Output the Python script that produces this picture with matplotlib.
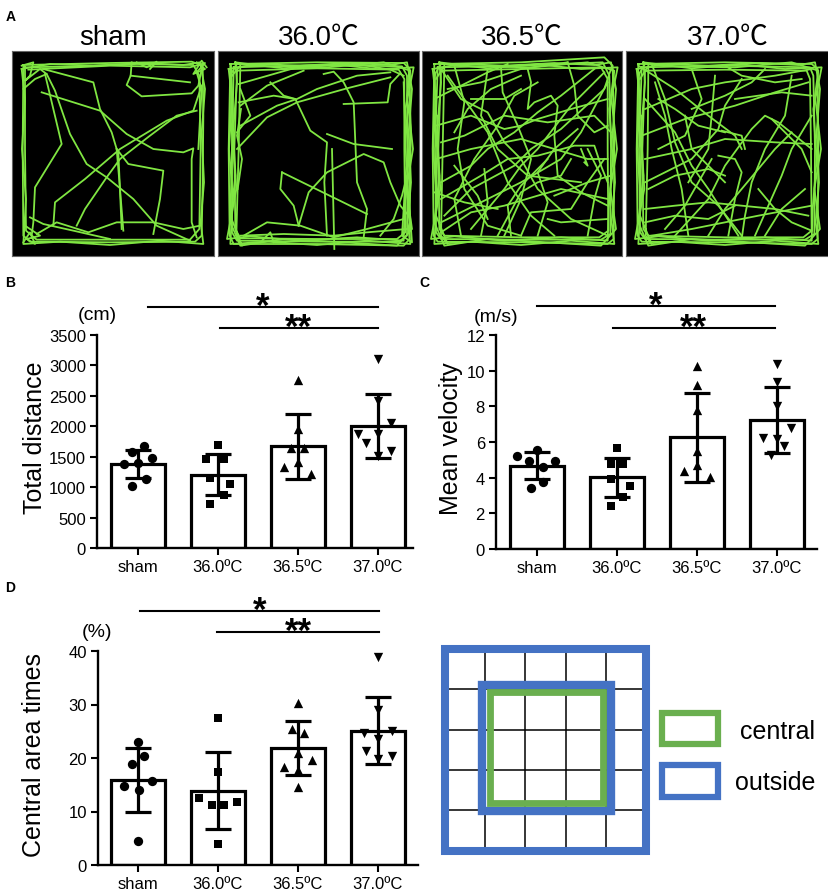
import numpy as np
import matplotlib.pyplot as plt
from matplotlib.patches import Rectangle

plt.rcParams['font.family'] = ['Liberation Sans', 'Noto Sans CJK SC', 'DejaVu Sans']

W, H = 829, 895

groups = ['sham', '36.0ºC', '36.5ºC', '37.0ºC']
track_titles = ['sham', '36.0℃', '36.5℃', '37.0℃']
markers = ['o', 's', '^', 'v']
msize = [45, 36, 45, 45]

### panel B: total distance (cm) ###
dist_mean = [1380, 1205, 1670, 2010]
dist_sd = [228, 342, 533, 528]
dist_pts = [[1670, 1570, 1480, 1380, 1400, 1130, 1020],
            [1690, 1470, 1460, 1143, 1050, 870, 722],
            [2762, 1952, 1635, 1635, 1405, 1323, 1214],
            [3112, 2417, 2062, 1870, 1870, 1733, 1597, 1515]]
dist_dx = [[0.07, -0.08, 0.17, -0.17, 0.0, 0.1, -0.08],
           [0.0, -0.15, 0.08, -0.1, 0.15, 0.07, -0.1],
           [0.0, 0.0, -0.08, 0.08, 0.0, -0.17, 0.17],
           [0.0, 0.0, 0.17, -0.25, 0.0, -0.15, 0.17, 0.0]]

### panel C: mean velocity (m/s) ###
vel_mean = [4.67, 4.02, 6.26, 7.25]
vel_sd = [0.75, 1.1, 2.5, 1.86]
vel_pts = [[5.2, 5.57, 4.95, 4.95, 4.58, 3.78, 3.44],
           [5.64, 4.77, 4.77, 3.93, 3.51, 2.9, 2.43],
           [10.24, 9.2, 7.81, 5.51, 4.71, 4.39, 4.02],
           [10.4, 9.38, 8.04, 6.8, 6.22, 6.17, 5.78, 5.25]]
vel_dx = [[-0.25, 0.0, -0.1, 0.23, 0.08, 0.08, -0.08],
          [0.0, -0.08, 0.08, -0.08, 0.16, 0.08, -0.08],
          [0.0, 0.0, 0.0, 0.0, 0.0, -0.16, 0.16],
          [0.0, 0.0, 0.0, 0.17, -0.17, 0.0, 0.09, -0.08]]

### panel D: central area times (%) ###
cen_mean = [15.9, 13.9, 21.8, 25.1]
cen_sd = [5.9, 7.25, 5.05, 6.3]
cen_pts = [[23.0, 18.85, 20.4, 14.7, 15.7, 14.06, 4.54],
           [27.4, 17.4, 12.57, 11.3, 11.2, 11.7, 3.9],
           [30.2, 25.5, 24.6, 21.0, 19.7, 18.4, 17.7, 14.5],
           [38.9, 28.9, 25.1, 24.6, 23.6, 21.3, 20.3, 19.9]]
cen_dx = [[0.0, -0.07, 0.08, -0.17, 0.17, 0.01, 0.0],
          [0.0, 0.0, -0.24, -0.08, 0.08, 0.24, 0.0],
          [0.0, -0.08, 0.08, 0.0, 0.17, -0.17, 0.0, 0.0],
          [0.0, 0.0, 0.17, -0.17, 0.0, -0.15, 0.17, 0.0]]

# significance bars: (start group, end group, height, label)
dist_sig = [(0.125, 3.0, 3960, '*'), (1.02, 3.0, 3615, '**')]
vel_sig = [(0.0, 2.97, 13.63, '*'), (0.95, 2.97, 12.39, '**')]
cen_sig = [(0.025, 3.01, 47.5, '*'), (0.99, 3.01, 43.5, '**')]

### panel A: tracks, polylines in the zoomed pixel frame of each box ###
# wall-hugging loops, shared look for all four boxes
wall_loops = [
    [35,60, 120,45, 250,50, 400,42, 520,48, 570,40, 585,120, 575,250, 582,400, 572,520, 580,585, 450,575, 300,588, 150,578, 40,585, 48,450, 36,300, 45,150, 35,60],
    [55,40, 200,58, 350,46, 480,60, 590,55, 565,180, 575,330, 563,480, 560,575, 420,565, 250,575, 100,562, 30,570, 58,420, 48,250, 60,100, 55,40],
    [42,75, 60,45, 150,52, 330,55, 500,40, 580,65, 570,140, 588,300, 568,420, 585,540, 540,590, 380,580, 200,570, 70,590, 40,520, 55,380, 42,220, 42,75],
]
track_sham = [
    [40,48, 300,42, 545,38, 578,50, 580,200, 578,400, 575,560, 555,578, 300,580, 60,578, 40,560, 38,300, 40,48],
    [45,55, 200,52, 380,45, 550,48, 568,80, 572,300, 568,540, 540,572, 300,572, 80,572, 48,545, 45,300, 45,55],
    [55,62, 300,50, 540,55, 585,42, 560,70, 575,120, 565,300],
    [35,50, 70,40, 60,80, 45,95, 90,60, 110,75, 75,90, 40,120],
    [40,580, 60,550, 75,585, 50,570, 90,560, 45,530],
    [560,40, 585,60, 550,75, 575,35, 590,55],
    [380,40, 410,55, 440,38, 420,60],
    [105,75, 155,285, 75,415, 70,520, 65,560],
    [110,75, 135,125, 180,255, 230,345, 290,385, 370,450, 440,530, 540,575],
    [100,60, 250,100, 270,180, 305,250, 320,300, 330,420, 340,545],
    [95,130, 270,185, 350,255, 430,300, 520,310, 550,298, 545,330, 545,520, 560,565],
    [365,40, 362,80, 350,108, 395,142, 545,133, 565,110, 575,60],
    [362,80, 540,100],
    [130,530, 135,460, 225,390, 330,300, 470,215, 550,185, 575,110],
    [200,530, 225,480, 290,385, 330,330, 420,260, 500,200, 560,185],
    [320,300, 355,345, 460,365, 450,450, 430,555],
    [80,555, 140,520, 235,550, 320,520, 430,520, 520,540, 570,530],
    [60,505, 100,525, 190,545, 300,570],
    [320,300, 325,310, 335,540],
]
track_360 = [
    [40,45, 300,40, 560,42, 578,60, 580,300, 578,570, 560,590, 300,585, 50,585, 38,560, 35,300, 40,45],
    [50,55, 300,48, 555,52, 570,80, 572,300, 570,560, 545,578, 300,578, 60,575, 45,550, 45,300, 50,55],
    [60,65, 300,58, 545,62, 562,90, 562,300, 565,550, 540,570, 300,570, 70,568, 55,540, 52,300, 60,65],
    [45,80, 70,50, 65,300, 58,560, 75,590, 40,500, 48,200, 42,50],
    [575,60, 582,250, 575,450, 585,580, 555,560, 568,350, 560,100],
    [70,560, 200,555, 350,560, 450,550, 570,540],
    [65,105, 240,55, 420,45, 520,62, 560,80],
    [70,230, 180,170, 240,150, 300,120, 420,80, 520,70],
    [60,300, 150,205, 240,160, 390,118, 520,85],
    [160,100, 200,140, 235,150, 280,245, 330,280, 322,400, 330,560],
    [320,75, 350,68, 380,100, 410,160, 415,280, 420,400, 450,480, 440,565],
    [380,165, 512,160, 520,105, 548,75],
    [330,255, 410,285, 525,300],
    [195,370, 450,495],
    [195,370, 190,420, 230,470, 245,530],
    [245,530, 275,430, 330,370, 440,315, 500,340, 520,400, 550,470, 575,500],
    [345,300, 352,600],
    [80,560, 150,520, 250,530, 350,565, 450,540, 560,510],
    [65,160, 170,140, 235,150],
    [70,170, 150,110, 260,65],
    [130,580, 160,550, 170,580],
    [490,560, 530,510, 555,440, 570,380],
    [60,250, 100,200, 70,120],
    [62,420, 75,330, 60,260, 72,180],
]
track_365 = [
    [40,45, 300,40, 550,25, 575,50, 580,300, 578,570, 560,585, 300,580, 50,578, 38,560, 35,300, 40,45],
    [50,55, 300,50, 545,40, 565,80, 570,300, 568,555, 540,572, 300,572, 60,570, 45,550, 42,300, 50,55],
    [60,65, 300,60, 540,55, 560,90, 560,300, 562,545, 535,565, 300,565, 70,560, 55,540, 52,300, 60,65],
    [45,90, 70,50, 65,300, 60,560, 80,585, 45,500, 50,200],
    [60,60, 120,150, 200,190, 250,280, 300,330, 350,420, 450,510, 560,560],
    [45,230, 150,200, 250,240, 300,230, 350,210, 450,180, 560,150],
    [100,50, 130,160, 110,300, 130,420, 200,530, 300,560],
    [240,55, 245,130, 290,230, 330,330, 300,450, 250,560],
    [320,60, 330,100, 320,180, 340,160, 390,140, 410,170, 400,260, 410,380, 480,430, 560,470],
    [440,40, 460,110, 470,200, 520,250, 560,230],
    [45,330, 150,300, 300,270, 400,300, 500,330, 560,330],
    [70,500, 150,420, 280,350, 330,300, 420,240, 550,120, 570,60],
    [60,450, 180,380, 260,330, 350,320, 460,290, 520,290, 540,350, 560,400],
    [180,560, 200,460, 190,360],
    [150,540, 250,420, 300,350, 350,300, 450,170, 550,70],
    [60,400, 150,350, 200,300, 280,250, 350,190, 420,140, 520,60],
    [80,120, 180,100, 300,60, 440,40],
    [40,150, 120,110, 200,70, 260,45],
    [100,250, 140,180, 210,120, 300,80],
    [300,560, 330,490, 450,480, 500,400, 570,380],
    [60,550, 150,490, 250,470, 350,440, 420,420, 560,450],
    [230,560, 300,430, 350,400, 420,380, 450,330],
    [100,350, 170,440, 200,510],
    [380,510, 420,520, 560,510],
    [150,150, 250,150, 300,120],
    [40,430, 130,460, 230,480],
    [400,440, 500,400, 550,330],
    [480,300, 500,350, 490,340],
    [80,80, 200,250, 260,400, 330,500, 400,560],
    [560,100, 480,250, 420,330, 300,400, 200,450, 60,520],
    [200,60, 180,200, 230,300, 320,380, 480,400],
    [60,280, 130,260, 250,200, 380,220, 520,200, 570,250],
    [350,560, 380,460, 350,370, 400,300, 470,240],
    [120,560, 100,450, 160,330, 230,230, 280,140, 350,100],
    [500,560, 520,450, 540,380, 500,300],
    [270,560, 260,470, 300,410, 380,330],
]
track_370 = [
    [40,45, 300,40, 560,45, 578,60, 580,300, 578,570, 560,585, 300,580, 50,578, 38,560, 35,300, 40,45],
    [50,55, 300,50, 555,55, 565,80, 570,300, 568,555, 540,572, 300,572, 60,570, 45,550, 42,300, 50,55],
    [60,65, 300,62, 545,65, 555,90, 558,300, 560,545, 535,565, 300,565, 70,560, 55,540, 52,300, 60,65],
    [45,90, 70,50, 68,300, 62,560, 80,585, 45,500, 50,200],
    [40,50, 150,120, 250,200, 330,260, 350,300],
    [80,45, 120,150, 150,280, 200,400, 280,470, 350,560],
    [60,180, 200,120, 300,100, 450,80, 560,60],
    [50,260, 180,210, 330,170, 450,130, 550,100],
    [300,50, 350,80, 450,100, 530,90],
    [500,80, 480,200, 420,300, 380,400, 360,500, 350,570],
    [290,245, 350,260, 360,300],
    [280,320, 330,330, 350,370, 330,450, 310,560],
    [60,330, 200,300, 300,270, 450,280, 560,285],
    [70,420, 150,380, 250,360, 300,380],
    [60,480, 150,470, 250,460, 350,470, 450,480, 550,500],
    [80,560, 200,540, 300,520, 400,500, 560,470],
    [150,560, 250,450, 300,350, 380,240, 420,200, 460,220, 560,300],
    [90,100, 120,200, 140,300, 170,420, 190,560],
    [250,560, 300,480, 350,420, 450,300, 500,250],
    [400,420, 450,480, 500,520, 560,545],
    [440,210, 530,300, 560,370],
    [60,400, 200,330, 280,240, 300,170, 350,90],
    [180,200, 200,300, 250,350, 300,400],
    [100,150, 150,180, 220,230, 300,250],
    [420,560, 470,480, 540,420],
    [190,400, 250,300, 260,200, 270,80],
    [100,300, 180,260, 230,150, 200,60],
    [60,150, 150,250, 200,350, 250,420, 340,560],
    [120,540, 180,470, 220,400, 260,330],
    [330,150, 400,140, 470,130, 560,140],
    [560,200, 500,300, 470,380, 430,470, 390,560],
    [60,520, 150,500, 250,510, 330,470],
    [200,180, 250,160, 300,140, 380,100, 420,60],
]
tracks = [track_sham, track_360, track_365, track_370]
# how many of the shared wall loops each animal adds
wall_count = [1, 3, 3, 3]
# pixel boxes of the four black squares and the origin of each zoomed frame
track_x0 = [12, 218, 422, 626]
track_x1 = [214, 419, 622, 829]
track_off = [10, 217, 421, 625]


fig = plt.figure(figsize=(W / 100, H / 100), dpi=100)


def px_axes(x0, y0, x1, y1):
    return fig.add_axes([x0 / W, 1 - y1 / H, (x1 - x0) / W, (y1 - y0) / H])


###  A  ###
for i in range(4):
    ax = px_axes(track_x0[i], 52, track_x1[i], 257)
    ax.set_facecolor('black')
    ax.set_xlim((track_x0[i] - track_off[i]) * 3, (track_x1[i] - track_off[i]) * 3)
    ax.set_ylim((257 - 50) * 3, (52 - 50) * 3)
    for line in tracks[i] + wall_loops[:wall_count[i]]:
        ax.plot(line[0::2], line[1::2], color='#80e642', lw=1.3)
    ax.set_xticks([])
    ax.set_yticks([])
    for s in ax.spines.values():
        s.set_color('#666666')
        s.set_linewidth(0.8)
    ax.text(0.5, 1.068, track_titles[i], transform=ax.transAxes, ha='center',
            va='center', fontsize=20)


def bar_panel(ax, means, sds, pts, dxs, ymax, ystep, unit, unit_y, ylabel, sig, lab_x):
    x = np.arange(4)
    ax.bar(x, means, width=0.68, color='white', edgecolor='black', linewidth=2.3, zorder=1)
    for i in range(4):
        ax.scatter(i + np.array(dxs[i]), pts[i], marker=markers[i], s=msize[i],
                   color='black', linewidths=0, zorder=2, clip_on=False)
    ax.errorbar(x, means, yerr=sds, fmt='none', ecolor='black', elinewidth=2.3,
                capsize=9.5, capthick=2.3, zorder=3)
    ax.set_ylim(0, ymax)
    ax.set_yticks(np.arange(0, ymax + 1e-9, ystep))
    ax.set_xticks(x)
    ax.set_xticklabels(groups)
    ax.tick_params(direction='out', length=5, width=1.5, labelsize=12, pad=3)
    for s in ['top', 'right']:
        ax.spines[s].set_visible(False)
    for s in ['left', 'bottom']:
        ax.spines[s].set_linewidth(1.7)
    ax.text(-0.51, unit_y, unit, ha='center', va='center', fontsize=14)
    ax.text(lab_x, 0.52, ylabel, transform=ax.transAxes, rotation=90,
            ha='center', va='center', fontsize=18)
    for x0, x1, yy, lab in sig:
        ax.plot([x0, x1], [yy, yy], color='black', lw=1.5, clip_on=False)
        ax.annotate(lab, xy=((x0 + x1) / 2, yy), xytext=(0, -6.5), textcoords='offset points',
                    ha='center', va='baseline', fontsize=25, fontweight='bold',
                    annotation_clip=False)


###  B  ###
axB = px_axes(97, 336, 413, 549)
axB.set_xlim(-0.5125, 3.44)
bar_panel(axB, dist_mean, dist_sd, dist_pts, dist_dx, 3500, 500, '(cm)', 3830,
          'Total distance', dist_sig, -0.196)

###  C  ###
axC = px_axes(496, 336, 817, 550)
axC.set_xlim(-0.5125, 3.5)
bar_panel(axC, vel_mean, vel_sd, vel_pts, vel_dx, 12, 2, '(m/s)', 13.06,
          'Mean velocity', vel_sig, -0.14)

###  D  ###
axD = px_axes(98, 652, 418, 866)
axD.set_xlim(-0.5, 3.5)
bar_panel(axD, cen_mean, cen_sd, cen_pts, cen_dx, 40, 10, '(%)', 43.7,
          'Central area times', cen_sig, -0.2)

### central / outside schematic, in grid cell units ###
blue = '#4472c4'
green = '#6aaf4f'
axg = px_axes(436, 640, 829, 862)
axg.set_xlim(-0.224, 9.55)
axg.set_ylim(5.26, -0.248)
axg.axis('off')
for k in range(1, 5):
    axg.plot([k, k], [0, 5], color='black', lw=1.1, zorder=1)
    axg.plot([0, 5], [k, k], color='black', lw=1.1, zorder=1)
boxes = [((0, 0), 5, 5, blue, 5.8, 'none'),
         ((0.93, 0.89), 3.19, 3.12, blue, 6.0, 'none'),
         ((1.13, 1.075), 2.81, 2.755, green, 4.9, 'none'),
         ((5.40, 1.585), 1.39, 0.775, green, 4.5, 'white'),
         ((5.40, 2.878), 1.39, 0.792, blue, 4.5, 'white')]
for xy, w, h, ec, lw, fc in boxes:
    axg.add_patch(Rectangle(xy, w, h, fc=fc, ec=ec, lw=lw, joinstyle='miter', zorder=3))
axg.text(9.2, 2.03, 'central', ha='right', va='center', fontsize=18)
axg.text(9.2, 3.30, 'outside', ha='right', va='center', fontsize=18)

# panel letters
for lab, x, y in [('A', 11, 17), ('B', 10, 283), ('C', 424, 283), ('D', 10, 588)]:
    fig.text(x / W, 1 - y / H, lab, ha='center', va='center', fontsize=10, fontweight='bold')

plt.savefig('out.png', dpi=100)
